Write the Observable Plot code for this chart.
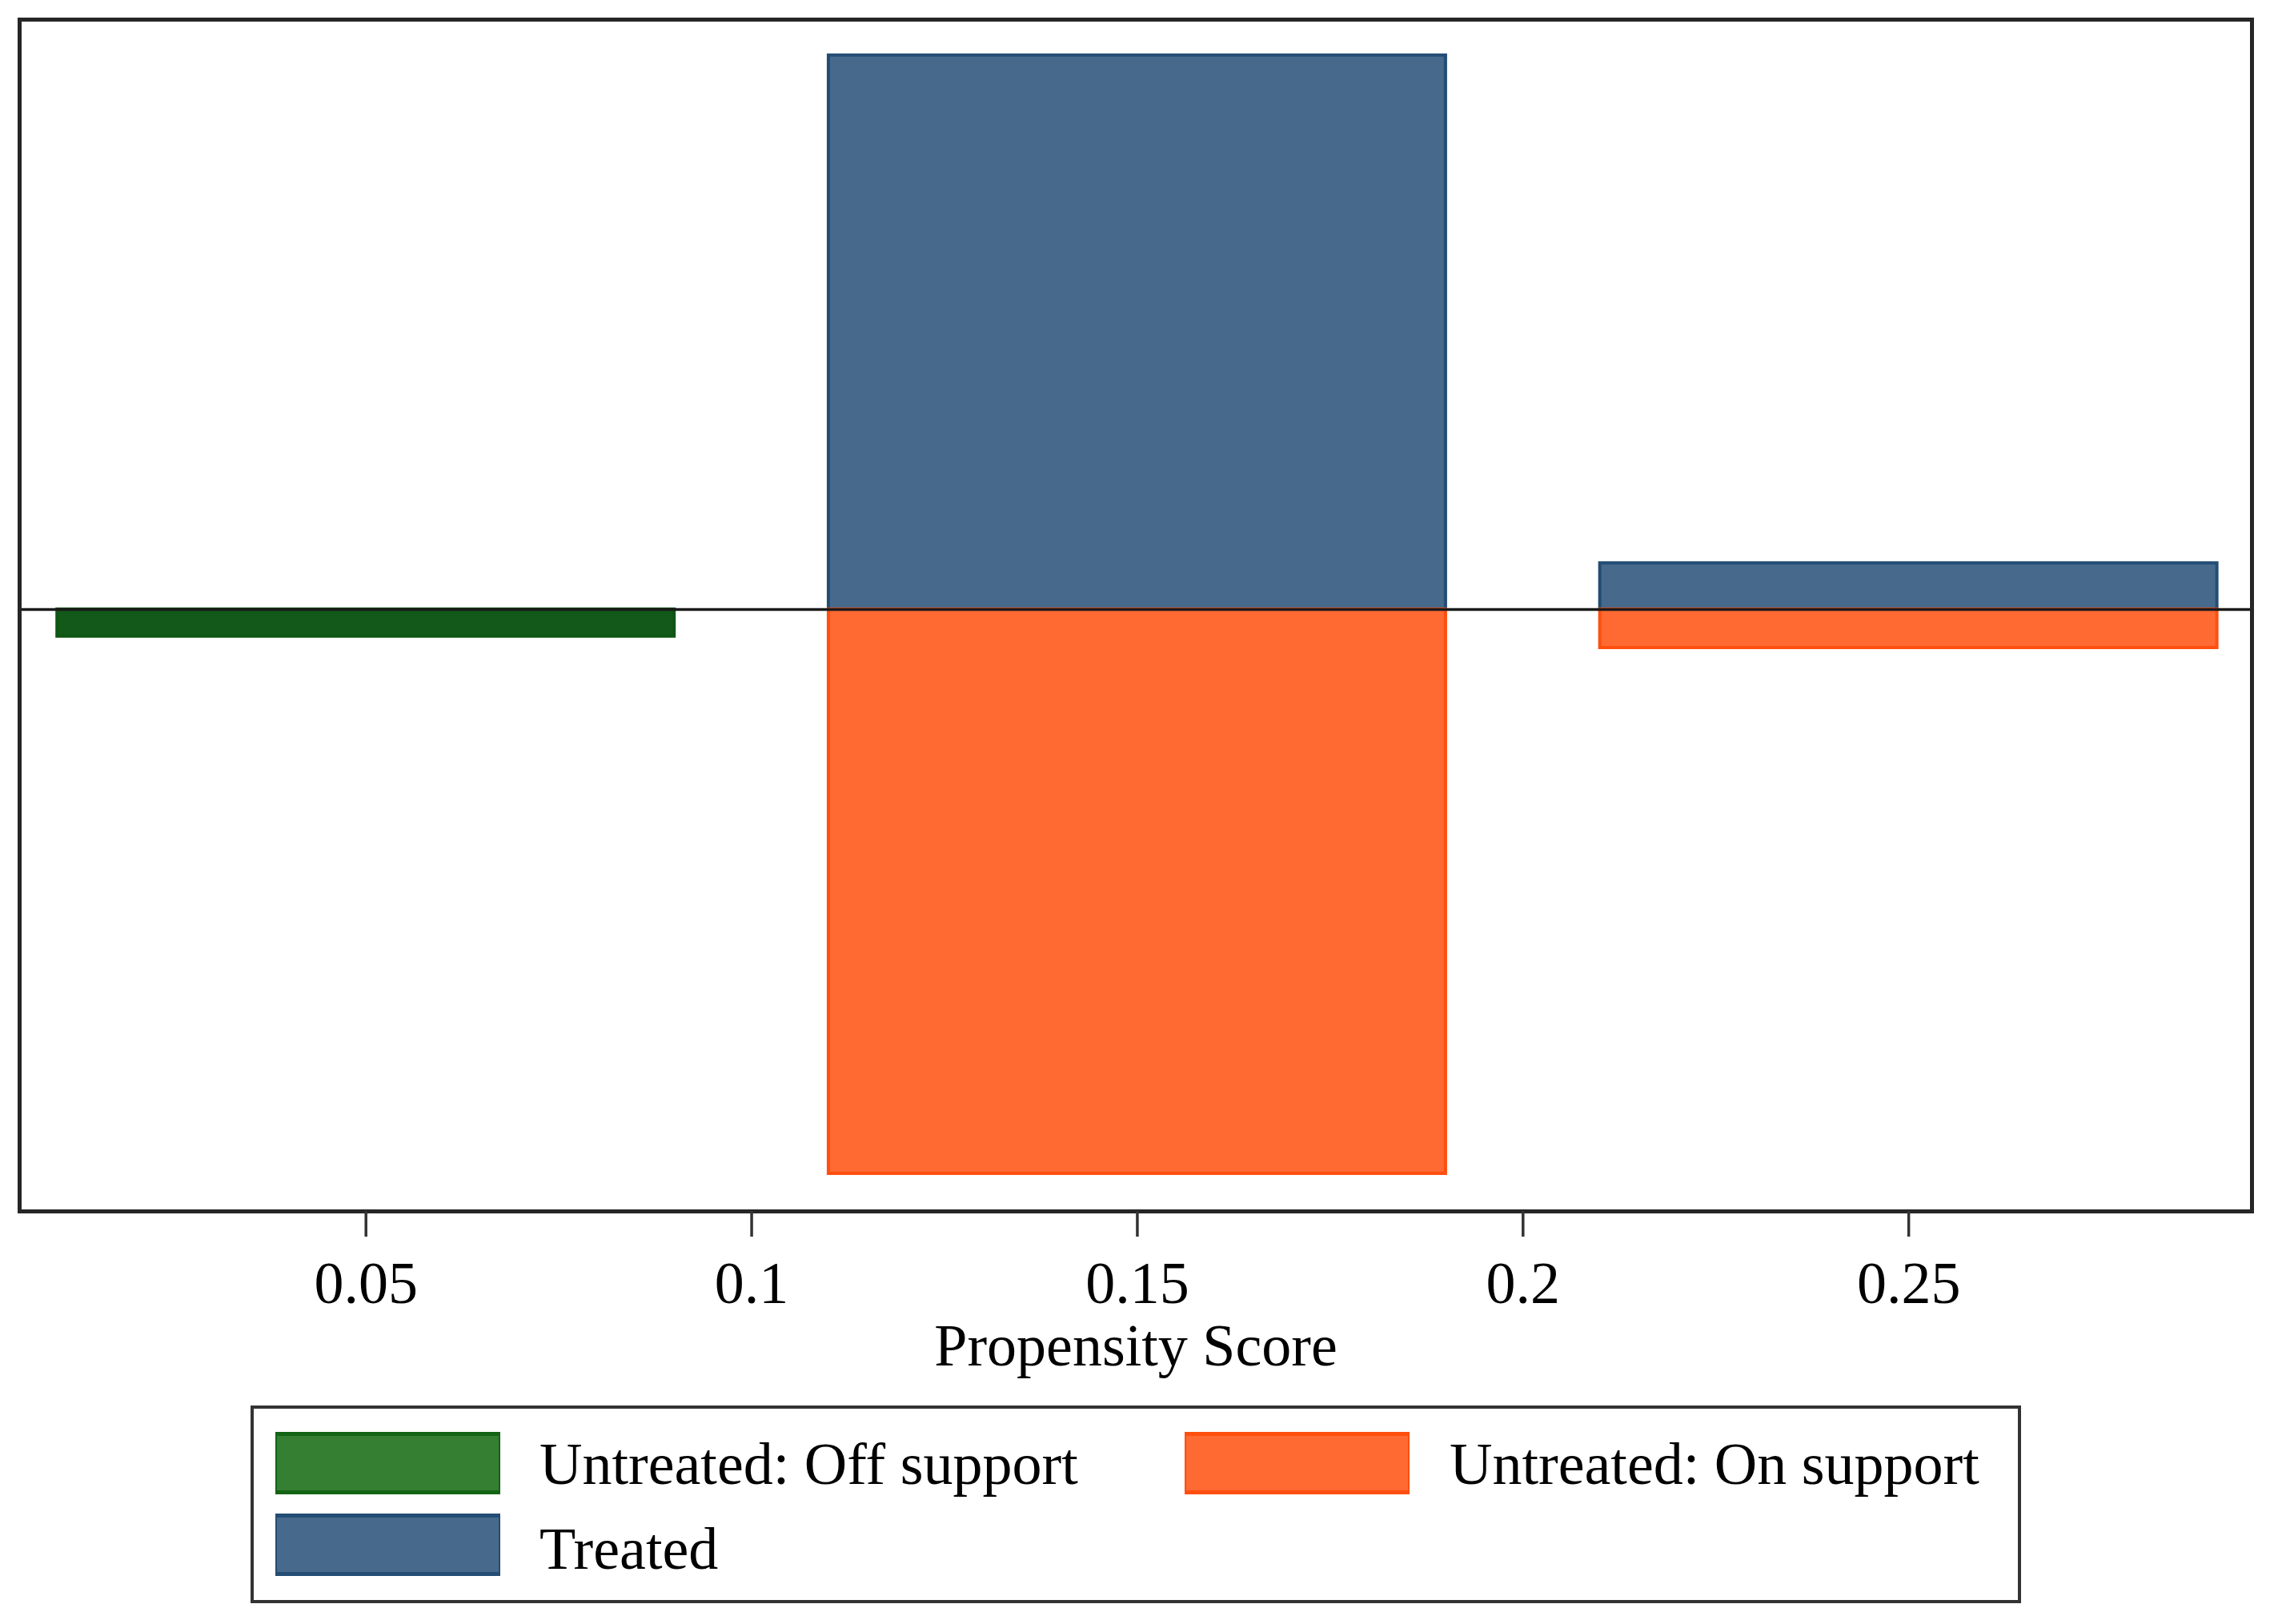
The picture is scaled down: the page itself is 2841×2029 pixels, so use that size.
<!DOCTYPE html>
<html>
<head>
<meta charset="utf-8">
<script src="https://cdn.jsdelivr.net/npm/d3@7"></script>
<script src="https://cdn.jsdelivr.net/npm/@observablehq/plot@0.6"></script>
<style>
  html, body { margin: 0; padding: 0; background: #fff; }
  #wrap { position: relative; width: 2841px; height: 2029px; font-family: "Liberation Serif", "Times New Roman", serif; }
  #chart svg { display: block; }
  #legend { position: absolute; left: 313px; top: 1756px; width: 2212px; height: 247px; box-sizing: border-box;
            border: 4px solid #333; background: #fff; }
  .sw { position: absolute; width: 281px; height: 78px; box-sizing: border-box; border-top: 5px solid; border-bottom: 5px solid; border-left: 2px solid; border-right: 2px solid; }
  .lt { position: absolute; font-size: 74px; line-height: 74px; white-space: nowrap; color: #000; }
</style>
</head>
<body>
<div id="wrap">
  <div id="chart"></div>
  <div id="legend"></div>
</div>
<script>
// Histogram bins (propensity score)
const binStart = [0.01, 0.11, 0.21];
const binEnd   = [0.09, 0.19, 0.29];
// Bar heights (fraction-like units); treated plotted upward, untreated downward
const treated      = [0, 0.923, 0.077];
const untreatedOn  = [0, 0.940, 0.064];
const untreatedOff = [0.045, 0, 0];

const xTicks = [0.05, 0.1, 0.15, 0.2, 0.25];
const xTitle = "Propensity Score";

const groups = ["Untreated: Off support", "Untreated: On support", "Treated"];
const legendFill   = ["#357f33", "#ff6a33", "#476a8c"];
const legendStroke = ["#136414", "#ff4f0f", "#234d74"];
const barFill   = ["#12591a", "#ff6a33", "#476a8c"];
const barStroke = ["#0f5614", "#ff4f0f", "#234d74"];

function rowsFor(values, sign, g) {
  return values.map((v, i) => ({x1: binStart[i], x2: binEnd[i], y: sign * v, g}))
               .filter(d => d.y !== 0);
}
const rowsOff = rowsFor(untreatedOff, -1, groups[0]);
const rowsOn  = rowsFor(untreatedOn, -1, groups[1]);
const rowsTr  = rowsFor(treated, 1, groups[2]);

const chart = Plot.plot({
  width: 2841,
  height: 1750,
  marginLeft: 24,
  marginRight: 28,
  marginTop: 24,
  marginBottom: 237,
  style: {fontFamily: "'Liberation Serif', 'Times New Roman', serif", fontSize: "74px", color: "#000", background: "#fff"},
  x: {domain: [0.0051, 0.2945]},
  y: {domain: [-1.0027, 0.9827], axis: null},
  marks: [
    Plot.rect(rowsTr,  {x1: "x1", x2: "x2", y1: 0, y2: "y", fill: barFill[2], stroke: barStroke[2], strokeWidth: 4}),
    Plot.rect(rowsOn,  {x1: "x1", x2: "x2", y1: 0, y2: "y", fill: barFill[1], stroke: barStroke[1], strokeWidth: 4}),
    Plot.rect(rowsOff, {x1: "x1", x2: "x2", y1: 0, y2: "y", fill: barFill[0], stroke: barStroke[0], strokeWidth: 4}),
    Plot.ruleY([0], {stroke: "#1a1a1a", strokeWidth: 3.5}),
    Plot.frame({stroke: "#262626", strokeWidth: 5}),
    Plot.axisX(xTicks, {tickSize: 32, tickPadding: 30, stroke: "#333", strokeWidth: 3.5,
                        tickFormat: d => String(d), label: null, fontSize: 74}),
    Plot.text([xTitle], {frameAnchor: "bottom", dy: 192, lineAnchor: "bottom", fontSize: 74, fill: "#000"})
  ]
});
document.getElementById("chart").appendChild(chart);

// Legend (HTML, below the SVG)
const legend = document.getElementById("legend");
const items = [
  {i: 0, swLeft: 27,   swTop: 29,  txLeft: 357,  txTop: 32},
  {i: 1, swLeft: 1163, swTop: 29,  txLeft: 1494, txTop: 32},
  {i: 2, swLeft: 27,   swTop: 131, txLeft: 357,  txTop: 138}
];
for (const it of items) {
  const sw = document.createElement("div");
  sw.className = "sw";
  sw.style.left = it.swLeft + "px";
  sw.style.top = it.swTop + "px";
  sw.style.background = legendFill[it.i];
  sw.style.borderColor = legendStroke[it.i];
  legend.appendChild(sw);
  const t = document.createElement("div");
  t.className = "lt";
  t.style.left = it.txLeft + "px";
  t.style.top = it.txTop + "px";
  t.textContent = groups[it.i];
  legend.appendChild(t);
}
</script>
</body>
</html>
